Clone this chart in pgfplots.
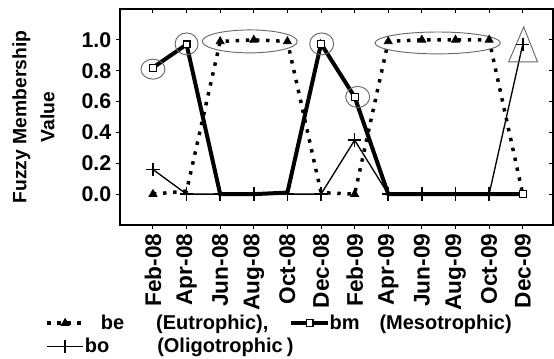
\documentclass[border=0pt]{standalone}
\usepackage{fontspec}
\setmainfont{Liberation Sans}
\usepackage{pgfplots}
\pgfplotsset{compat=1.18}
\newcommand\tfx{\fontsize{17pt}{20pt}\selectfont\bfseries}
\newcommand\tfy{\fontsize{16pt}{19pt}\selectfont\bfseries}
\newcommand\tfl{\fontsize{14.5pt}{21pt}\selectfont\bfseries}
\newcommand\tfg{\fontsize{15pt}{17pt}\selectfont\bfseries}
\definecolor{ann}{RGB}{105,105,105}
\pgfplotsset{
  basestyle/.style={
    at={(0,0)}, anchor=south west,
    scale only axis, width=324.75pt, height=162pt,
    xmin=-0.98, xmax=11.9, ymin=-0.2, ymax=1.2,
    axis line style={line width=0.8pt},
    major tick style={line width=0.8pt, black},
    major tick length=3pt,
    xtick={0,1,2,3,4,5,6,7,8,9,10,11},
    ytick={0,0.2,0.4,0.6,0.8,1.0},
  }
}
\begin{document}
\begin{tikzpicture}
\begin{axis}[basestyle,
  xtick pos=left, ytick pos=left, tick align=outside,
  xticklabels={Feb-08,Apr-08,Jun-08,Aug-08,Oct-08,Dec-08,Feb-09,Apr-09,Jun-09,Aug-09,Oct-09,Dec-09},
  yticklabels={0.0,0.2,0.4,0.6,0.8,1.0},
  x tick label style={rotate=90, anchor=east, font=\tfx},
  y tick label style={font=\tfy},
  ylabel={Fuzzy Membership\\Value},
  ylabel style={at={(axis description cs:-0.200,0.5)}, anchor=center, align=center, font=\tfl},
  legend style={at={(axis description cs:-0.173,-0.415)}, anchor=north west, draw=none, fill=none,
    inner sep=0pt, row sep=5pt,
    legend columns=2, font=\tfg, nodes={inner sep=0pt},
    /tikz/every odd column/.append style={column sep=0pt},
    /tikz/every even column/.append style={column sep=2pt}},
  legend cell align=left,
  legend image code/.code={\draw[#1, mark=none] (0cm,0cm) -- (0.95cm,0cm); \draw[#1, mark indices={1}] plot coordinates {(0.475cm,0cm)};},
]
\addplot[black, line width=2.6pt, dash pattern=on 2.6pt off 5pt, mark=triangle*, mark size=3.5pt,
  mark options={solid, line width=0.5pt}, mark indices={1,3,4,5,7,8,9,10,11}]
  coordinates {(0,0) (1,0.02) (2,0.99) (3,1.0) (4,0.99) (5,0.01) (6,0.0) (7,0.99) (8,1.0) (9,1.0) (10,1.0) (11,0)};
\addlegendentry{\hspace{12pt}be\hspace{24pt}(Eutrophic),}
\addplot[black, line width=3pt, mark=square*, mark size=2.6pt,
  mark options={fill=white, solid, line width=0.8pt}, mark indices={1,2,6,7,12}]
  coordinates {(0,0.82) (1,0.97) (2,0) (3,0) (4,0.01) (5,0.975) (6,0.63) (7,0) (8,0) (9,0) (10,0) (11,0)};
\addlegendentry{bm\hspace{15pt}(Mesotrophic)}
\addplot[black, line width=1pt, mark=+, mark size=5pt, mark options={line width=1.2pt}]
  coordinates {(0,0.16) (1,0) (2,0) (3,0) (4,0) (5,0) (6,0.35) (7,0) (8,0) (9,0) (10,0) (11,0.97)};
\addlegendentry{bo\hspace{36pt}(Oligotrophic\hspace{3pt}\rlap{)}}
\draw[ann, line width=0.7pt] (axis cs:0,0.81) ellipse [x radius=9pt, y radius=7.5pt];
\draw[ann, line width=0.7pt] (axis cs:1,0.974) ellipse [x radius=8.6pt, y radius=8.2pt];
\draw[ann, line width=0.7pt] (axis cs:2.88,0.99) ellipse [x radius=35.6pt, y radius=8.6pt];
\draw[ann, line width=0.7pt] (axis cs:5.02,0.974) ellipse [x radius=9pt, y radius=8.2pt];
\draw[ann, line width=0.7pt] (axis cs:6.09,0.63) ellipse [x radius=9pt, y radius=7.9pt];
\draw[ann, line width=0.7pt] (axis cs:8.47,0.98) ellipse [x radius=47pt, y radius=8.2pt];
\draw[ann, line width=0.7pt] (axis cs:11.03,1.084) -- (axis cs:10.58,0.857) -- (axis cs:11.44,0.857) -- cycle;
\end{axis}
\begin{axis}[basestyle, xtick pos=right, ytick pos=right, tick align=inside,
  xticklabels={}, yticklabels={}]
\end{axis}
\pgfresetboundingbox
\path (-90pt,-100.5pt) rectangle (325.5pt,168.75pt);
\end{tikzpicture}
\end{document}
